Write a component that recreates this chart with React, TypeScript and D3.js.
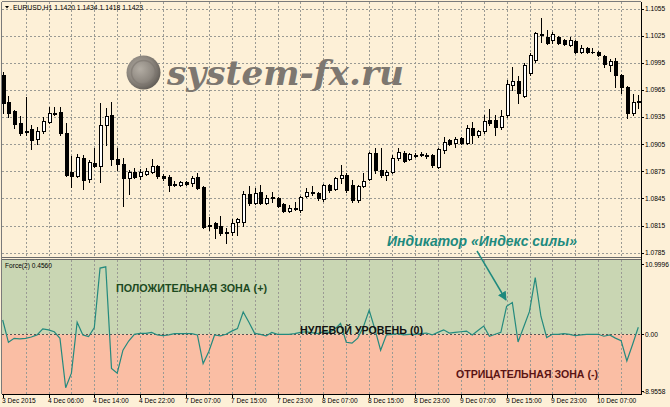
import React from 'react';
import * as d3 from 'd3';

const W = 670;
const H = 407;

const headerText = 'EURUSD,H1  1.1420 1.1434 1.1418 1.1423';
const indicatorName = 'Force(2) 0.4560';

const timeLabels = ['3 Dec 2015', '4 Dec 06:00', '4 Dec 14:00', '4 Dec 22:00', '7 Dec 07:00', '7 Dec 15:00', '7 Dec 23:00', '8 Dec 07:00', '8 Dec 15:00', '8 Dec 23:00', '9 Dec 07:00', '9 Dec 15:00', '9 Dec 23:00', '10 Dec 07:00'];
const timeLabelBars = [0, 8, 16, 24, 32, 40, 48, 56, 64, 72, 80, 88, 96, 104];

const priceTicks = [1.0785, 1.0815, 1.0845, 1.0875, 1.0905, 1.0935, 1.0965, 1.0995, 1.1025, 1.1055];
const forceTicks = [10.9996, 0, -8.9558];
const forceTickLabels = ['10.9996', '0.00', '-8.9558'];

const opens = [1.09814, 1.09516, 1.09416, 1.09284, 1.09195, 1.09217, 1.09107, 1.09195, 1.09295, 1.09394,
  1.09405, 1.09173, 1.08742, 1.08697, 1.08897, 1.08664, 1.08841, 1.08808, 1.09261, 1.09372,
  1.08885, 1.08830, 1.08675, 1.08742, 1.08697, 1.08720, 1.08742, 1.08808, 1.08697, 1.08686,
  1.08609, 1.08598, 1.08631, 1.08620, 1.08686, 1.08576, 1.08155, 1.08178, 1.08144, 1.08078,
  1.08078, 1.08189, 1.08189, 1.08498, 1.08399, 1.08520, 1.08399, 1.08465, 1.08454, 1.08388,
  1.08310, 1.08344, 1.08321, 1.08476, 1.08520, 1.08509, 1.08443, 1.08598, 1.08554, 1.08675,
  1.08708, 1.08598, 1.08432, 1.08587, 1.08664, 1.08952, 1.08764, 1.08708, 1.08742, 1.08897,
  1.08952, 1.08885, 1.08930, 1.08941, 1.08930, 1.08930, 1.08797, 1.08985, 1.09096, 1.09062,
  1.09118, 1.09062, 1.09228, 1.09151, 1.09195, 1.09317, 1.09317, 1.09239, 1.09372, 1.09704,
  1.09748, 1.09582, 1.09837, 1.09980, 1.10268, 1.10235, 1.10202, 1.10235, 1.10202, 1.10146,
  1.10191, 1.10069, 1.10113, 1.10074, 1.10069, 1.10025, 1.09925, 1.09969, 1.09814, 1.09682,
  1.09394, 1.09516];

const highs = [1.09848, 1.09582, 1.09427, 1.09361, 1.09571, 1.09261, 1.09239, 1.09350, 1.09461, 1.09461,
  1.09461, 1.09284, 1.08919, 1.08941, 1.08930, 1.08874, 1.09007, 1.09505, 1.09450, 1.09516,
  1.09007, 1.08897, 1.08764, 1.08786, 1.08775, 1.08786, 1.08885, 1.08819, 1.08720, 1.08708,
  1.08642, 1.08642, 1.08642, 1.08697, 1.08731, 1.08587, 1.08244, 1.08189, 1.08255, 1.08122,
  1.08222, 1.08233, 1.08532, 1.08587, 1.08565, 1.08598, 1.08487, 1.08520, 1.08465, 1.08399,
  1.08377, 1.08410, 1.08476, 1.08565, 1.08587, 1.08520, 1.08609, 1.08609, 1.08686, 1.08819,
  1.08731, 1.08653, 1.08598, 1.08731, 1.08963, 1.09007, 1.09007, 1.08764, 1.08930, 1.09007,
  1.08974, 1.08952, 1.08952, 1.08963, 1.08952, 1.08941, 1.09007, 1.09129, 1.09107, 1.09129,
  1.09129, 1.09261, 1.09295, 1.09206, 1.09372, 1.09438, 1.09372, 1.09427, 1.09759, 1.09903,
  1.09803, 1.09947, 1.10058, 1.10290, 1.10445, 1.10312, 1.10290, 1.10246, 1.10213, 1.10235,
  1.10202, 1.10146, 1.10124, 1.10113, 1.10080, 1.10036, 1.09991, 1.10003, 1.09826, 1.09693,
  1.09604, 1.09593];

const lows = [1.09394, 1.09350, 1.09228, 1.09151, 1.09151, 1.08996, 1.09051, 1.09173, 1.09284, 1.09372,
  1.09151, 1.08697, 1.08576, 1.08686, 1.08554, 1.08631, 1.08797, 1.08631, 1.09040, 1.08819,
  1.08764, 1.08366, 1.08498, 1.08675, 1.08664, 1.08708, 1.08731, 1.08675, 1.08653, 1.08532,
  1.08587, 1.08587, 1.08598, 1.08587, 1.08554, 1.08122, 1.08100, 1.08012, 1.08045, 1.07956,
  1.08045, 1.08045, 1.08144, 1.08377, 1.08388, 1.08388, 1.08388, 1.08410, 1.08355, 1.08299,
  1.08299, 1.08321, 1.08299, 1.08465, 1.08487, 1.08432, 1.08421, 1.08520, 1.08543, 1.08620,
  1.08520, 1.08410, 1.08410, 1.08576, 1.08653, 1.08731, 1.08686, 1.08653, 1.08731, 1.08874,
  1.08852, 1.08874, 1.08908, 1.08919, 1.08897, 1.08797, 1.08786, 1.08952, 1.09040, 1.09018,
  1.09051, 1.09051, 1.09062, 1.09129, 1.09173, 1.09261, 1.09151, 1.09217, 1.09350, 1.09649,
  1.09505, 1.09571, 1.09814, 1.09958, 1.10179, 1.10157, 1.10168, 1.10157, 1.10146, 1.10135,
  1.10058, 1.10058, 1.10058, 1.10058, 1.10025, 1.09903, 1.09859, 1.09682, 1.09615, 1.09339,
  1.09372, 1.09450];

const closes = [1.09505, 1.09394, 1.09273, 1.09173, 1.09184, 1.09096, 1.09195, 1.09306, 1.09394, 1.09383,
  1.09173, 1.08708, 1.08697, 1.08908, 1.08653, 1.08852, 1.08808, 1.09261, 1.09361, 1.08885,
  1.08830, 1.08675, 1.08742, 1.08686, 1.08742, 1.08753, 1.08808, 1.08697, 1.08675, 1.08598,
  1.08598, 1.08631, 1.08609, 1.08675, 1.08565, 1.08133, 1.08144, 1.08122, 1.08067, 1.08073,
  1.08178, 1.08222, 1.08498, 1.08399, 1.08509, 1.08399, 1.08454, 1.08454, 1.08366, 1.08310,
  1.08344, 1.08338, 1.08465, 1.08520, 1.08515, 1.08454, 1.08598, 1.08543, 1.08675, 1.08708,
  1.08543, 1.08432, 1.08587, 1.08642, 1.08952, 1.08764, 1.08708, 1.08742, 1.08897, 1.08963,
  1.08863, 1.08941, 1.08924, 1.08935, 1.08919, 1.08819, 1.08996, 1.09073, 1.09051, 1.09107,
  1.09062, 1.09228, 1.09151, 1.09195, 1.09306, 1.09284, 1.09239, 1.09361, 1.09715, 1.09748,
  1.09615, 1.09925, 1.10036, 1.10279, 1.10262, 1.10168, 1.10268, 1.10168, 1.10157, 1.10202,
  1.10069, 1.10113, 1.10069, 1.10069, 1.10036, 1.09936, 1.09969, 1.09814, 1.09682, 1.09394,
  1.09516, 1.09527];

const force = [2.25, -1.26, -0.63, -0.73, -0.63, -0.42, -0.1, 0.84, 0.7, 0.4,
  -0.63, -8.4, -6.1, 1.9, -0.1, -0.35, 1.05, 10.4, 10.6, -5.35,
  -6.1, -2.5, -1.05, 0, 0.15, 0.15, 0.3, -0.1, -0.2, -0.1,
  0.1, 0.1, 0.1, 0.1, -0.1, -4.6, -2.7, -0.1, -0.25, 0,
  0.5, 0.9, 3.5, 1.9, 0.15, 0, -0.25, 0.3, 0, 0,
  0, 0.1, 0.3, 0.4, 0.25, 0.1, 0.4, 0.3, 0.8, 1.7,
  -1.25, -1.4, -0.6, 1.2, 3.8, 0.8, -2.5, -0.1, 0, 0.1,
  -0.1, 0, 0, 0.1, 0.2, -0.1, 0.3, 0.7, 0.2, 0.3,
  0.4, 0.5, -0.1, 0.6, 1.3, -0.3, 0, 0.3, 4.4, 5.0,
  -1.2, 1.2, 3.6, 8.9, 2.8, -0.5, 0, 0, 0.1, 0,
  -0.2, -0.1, 0, 0, 0, -0.3, -0.1, -0.6, -1.0, -4.2,
  -1.6, 1.1];

const zoneLabels = ['ПОЛОЖИТЕЛЬНАЯ ЗОНА (+)', 'НУЛЕВОЙ УРОВЕНЬ (0)', 'ОТРИЦАТЕЛЬНАЯ ЗОНА (-)'];
const annotation = 'Индикатор «Индекс силы»';
const watermark = 'system-fx.ru';

// layout
const L = 2;
const R = 641;
const PT = 2;
const PB = 256.5;
const IT = 259.5;
const IB = 394;

const BG = '#fdf0d7';
const GRID = '#9a9a94';
const FONT = "'Liberation Sans', Arial, sans-serif";

export default function App() {
  const n = closes.length;
  const x = d3.scaleLinear().domain([0, n - 1]).range([2.7, 638.3]);
  const yP = d3.scaleLinear().domain([1.0785, 1.1055]).range([252.7, 8.5]);
  const yF = d3.scaleLinear().domain([-8.9558, 10.9996]).range([391.3, 264.3]);
  const zeroY = yF(0);

  const forcePath = d3.line<number>().x((_, i) => x(i)).y((d) => yF(d))(force) || '';

  const gridBars = d3.range(4, n, 4);

  const candles = closes.map((c, i) => {
    const o = opens[i];
    const cx = Math.round(x(i));
    const yH = Math.round(yP(highs[i]));
    const yL = Math.round(yP(lows[i]));
    const yO = Math.round(yP(o));
    const yC = Math.round(yP(c));
    const top = Math.min(yO, yC);
    const bot = Math.max(yO, yC);
    const bull = c > o;
    const doji = bot - top < 1;
    return (
      <g key={i}>
        <line x1={cx + 0.5} x2={cx + 0.5} y1={yH} y2={yL + 1} stroke="#000" strokeWidth={1} />
        {doji ? (
          <rect x={cx - 1} y={top} width={4} height={1} fill="#000" />
        ) : bull ? (
          <rect x={cx - 0.5} y={top + 0.5} width={3} height={Math.max(bot - top, 1)} fill="#fff" stroke="#000" strokeWidth={1} />
        ) : (
          <rect x={cx - 1} y={top} width={4} height={Math.max(bot - top + 1, 1)} fill="#000" />
        )}
      </g>
    );
  });

  return (
    <div style={{ position: 'absolute', left: 0, top: 0 }}>
      <svg width={W} height={H} style={{ display: 'block' }} fontFamily={FONT}>
        <defs>
          <clipPath id="pclip">
            <rect x={L} y={PT} width={R - L} height={PB - PT} />
          </clipPath>
          <clipPath id="iclip">
            <rect x={L} y={IT} width={R - L} height={IB - IT} />
          </clipPath>
          <radialGradient id="coin" cx="40%" cy="40%" r="65%">
            <stop offset="0%" stopColor="#b3ada4" />
            <stop offset="60%" stopColor="#8d877f" />
            <stop offset="100%" stopColor="#5f5a54" />
          </radialGradient>
          <marker id="arr" viewBox="0 0 10 10" refX="9" refY="5" markerWidth="6" markerHeight="6" orient="auto">
            <path d="M0,0 L10,5 L0,10 z" fill="#1e8a7e" />
          </marker>
        </defs>

        <rect x={0} y={0} width={W} height={H} fill={BG} />

        {/* indicator zones */}
        <rect x={L} y={IT} width={R - L} height={zeroY - IT} fill="#c9d6b3" />
        <rect x={L} y={zeroY} width={R - L} height={IB - zeroY} fill="#fabea4" />

        {/* price grid */}
        <g clipPath="url(#pclip)" shapeRendering="crispEdges">
          {priceTicks.map((p) => (
            <line key={p} x1={L} x2={R} y1={Math.round(yP(p)) + 0.5} y2={Math.round(yP(p)) + 0.5} stroke={GRID} strokeDasharray="2,2" />
          ))}
          {gridBars.map((b) => (
            <line key={b} x1={Math.round(x(b)) + 0.5} x2={Math.round(x(b)) + 0.5} y1={PT} y2={PB} stroke={GRID} strokeDasharray="2,2" />
          ))}
        </g>
        {/* indicator grid */}
        <g clipPath="url(#iclip)" shapeRendering="crispEdges">
          {gridBars.map((b) => (
            <line key={b} x1={Math.round(x(b)) + 0.5} x2={Math.round(x(b)) + 0.5} y1={IT} y2={IB} stroke={GRID} strokeDasharray="2,2" />
          ))}
          <line x1={L} x2={R} y1={Math.round(zeroY) + 0.5} y2={Math.round(zeroY) + 0.5} stroke="#555" strokeDasharray="2,2" />
        </g>

        {/* watermark */}
        <g>
          <circle cx={143.5} cy={72.5} r={17} fill="url(#coin)" />
          <circle cx={143.5} cy={72.5} r={12} fill="none" stroke="#7b756e" strokeWidth={1.5} opacity={0.6} />
          <text x={167} y={85} fontFamily="'DejaVu Serif', 'Liberation Serif', serif" fontWeight="bold" fontStyle="italic" fontSize={34} fill="#7d7770" textLength={237} lengthAdjust="spacingAndGlyphs">{watermark}</text>
        </g>

        {/* candles */}
        <g clipPath="url(#pclip)" shapeRendering="crispEdges">{candles}</g>

        {/* force line */}
        <g clipPath="url(#iclip)">
          <path d={forcePath} fill="none" stroke="#248a7e" strokeWidth={1.2} />
        </g>

        {/* frames */}
        <g shapeRendering="crispEdges" fill="none">
          <line x1={L - 0.5} x2={L - 0.5} y1={PT - 0.5} y2={IB} stroke="#7a7a7a" />
          <line x1={L - 0.5} x2={R} y1={PT - 0.5} y2={PT - 0.5} stroke="#7a7a7a" />
          <line x1={L} x2={R} y1={PB + 0.5} y2={PB + 0.5} stroke="#6a6a6a" />
          <line x1={L} x2={R} y1={IT - 0.5} y2={IT - 0.5} stroke="#6a6a6a" />
          <line x1={R + 0.5} x2={R + 0.5} y1={PT - 0.5} y2={IB + 0.5} stroke="#000" />
          <line x1={L - 0.5} x2={R + 0.5} y1={IB + 0.5} y2={IB + 0.5} stroke="#000" />
        </g>

        {/* price axis */}
        <g fontSize={6.6} fill="#000">
          {priceTicks.map((p) => (
            <g key={p}>
              <line x1={R + 1} x2={R + 3} y1={Math.round(yP(p)) + 0.5} y2={Math.round(yP(p)) + 0.5} stroke="#000" shapeRendering="crispEdges" />
              <text x={645} y={yP(p) + 2.4}>{p.toFixed(4)}</text>
            </g>
          ))}
          {forceTicks.map((v, i) => (
            <g key={v}>
              <line x1={R + 1} x2={R + 3} y1={Math.round(yF(v)) + 0.5} y2={Math.round(yF(v)) + 0.5} stroke="#000" shapeRendering="crispEdges" />
              <text x={v < 0 ? 643 : 645} y={yF(v) + 2.4}>{forceTickLabels[i]}</text>
            </g>
          ))}
        </g>

        {/* time axis */}
        <g fontSize={6.6} fill="#000">
          {timeLabels.map((t, i) => {
            const bx = Math.round(x(timeLabelBars[i]));
            return (
              <g key={t}>
                <line x1={bx + 0.5} x2={bx + 0.5} y1={IB + 1} y2={IB + 4} stroke="#000" shapeRendering="crispEdges" />
                <text x={Math.max(bx - 1, 1.5)} y={403}>{t}</text>
              </g>
            );
          })}
        </g>

        {/* header */}
        <path d="M5,6 L9,6 L7,8.5 z" fill="#000" />
        <text x={13} y={10} fontSize={6.8} fill="#000">{headerText}</text>
        <text x={5} y={268} fontSize={6.6} fill="#000">{indicatorName}</text>

        {/* zone labels */}
        <text x={116} y={292} fontSize={11.5} fontWeight="bold" fill="#1d4a1f" textLength={151} lengthAdjust="spacingAndGlyphs">{zoneLabels[0]}</text>
        <text x={300} y={334} fontSize={11.5} fontWeight="bold" fill="#111" textLength={123} lengthAdjust="spacingAndGlyphs">{zoneLabels[1]}</text>
        <text x={456} y={378} fontSize={11.5} fontWeight="bold" fill="#5a1414" textLength={142} lengthAdjust="spacingAndGlyphs">{zoneLabels[2]}</text>

        {/* annotation */}
        <text x={387} y={246} fontSize={14} fontWeight="bold" fontStyle="italic" fill="#1e8a7e" textLength={190} lengthAdjust="spacingAndGlyphs">{annotation}</text>
        <line x1={477} y1={251} x2={506} y2={300} stroke="#1e8a7e" strokeWidth={1.5} markerEnd="url(#arr)" />
      </svg>
    </div>
  );
}
